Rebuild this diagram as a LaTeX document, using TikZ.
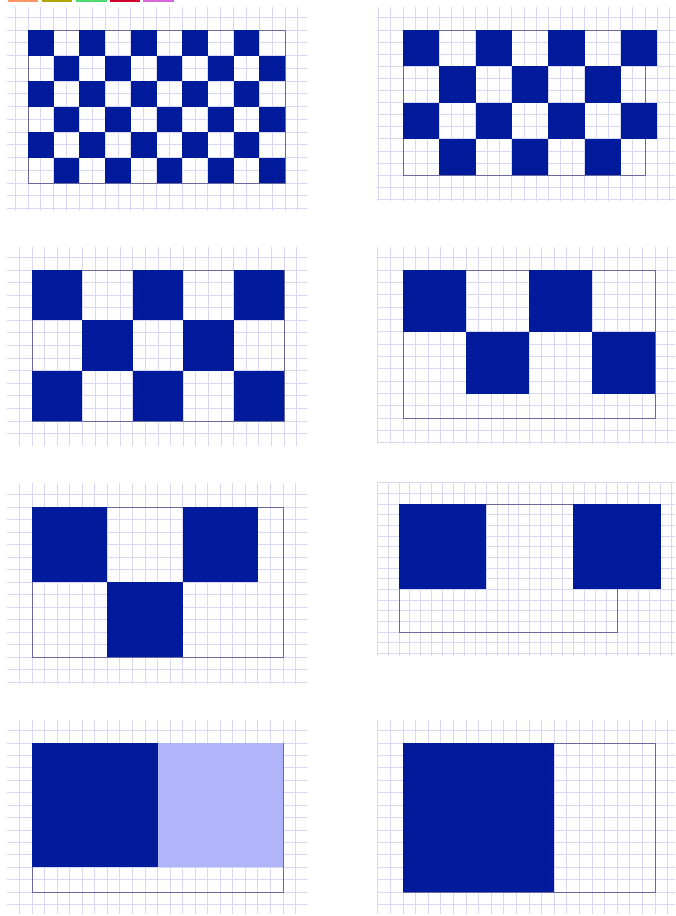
\documentclass[tikz,border=0pt]{standalone}
\definecolor{sqblue}{RGB}{0,26,156}
\definecolor{sqlite}{RGB}{176,180,248}
\definecolor{gridc}{RGB}{216,216,246}
\definecolor{framec}{RGB}{105,105,155}

% checkerboard of squares of side #1, last column #2, last row #3
\newcommand{\checker}[3]{%
  \foreach \ci in {0,...,#2}{%
    \foreach \ri in {0,...,#3}{%
      \pgfmathtruncatemacro\odd{mod(\ci+\ri,2)}%
      \ifnum\odd=0 \fill[sq] (\ci*#1,\ri*#1) rectangle ++(#1,#1);\fi
    }}}

% one sheet of squared paper with the 20x12 frame
\newcommand{\sheet}[5]{%
  \begin{scope}
    \clip (#1) rectangle (#2);
    \begin{scope}[shift={(#3)},#4]
      \foreach \i in {-3,...,27} \draw[gline] (\i,-3) -- (\i,18);
      \foreach \j in {-3,...,18} \draw[gline] (-3,\j) -- (27,\j);
      \draw[frame] (0,0) rectangle (20,12);
      #5
    \end{scope}
  \end{scope}}

\begin{document}
\begin{tikzpicture}[x=1pt,y=-1pt]
\tikzstyle{gline}=[draw=gridc,line width=0.9pt]
\tikzstyle{frame}=[draw=framec,line width=0.8pt]
\tikzstyle{sq}=[fill=sqblue]
\useasboundingbox (0,0) rectangle (676,916);
\fill[white] (0,0) rectangle (676,916);

\fill[orange!60!red!60] (8,0) rectangle (38,1.5);
\fill[olive!70!yellow] (42,0) rectangle (72,1.5);
\fill[green!60!teal!70] (76,0) rectangle (107,1.5);
\fill[purple!70!red] (110,0) rectangle (140,1.5);
\fill[violet!50!magenta!60] (143,0) rectangle (174,1.5);

\sheet{7,7}{307,210}{28,30}{xscale=12.85,yscale=12.75}{\checker{2}{9}{5}}
\sheet{377,7}{675,200}{403,30}{xscale=12.1,yscale=12.1}{\checker{3}{6}{3}}

\sheet{7,247}{307,445}{32,270}{xscale=12.6,yscale=12.58}{\checker{4}{4}{2}}
\sheet{377,247}{675,443}{403,270}{xscale=12.6,yscale=12.35}{\checker{5}{3}{1}}

\sheet{7,483}{307,683}{32,507}{xscale=12.55,yscale=12.5}{\checker{6}{2}{1}}
\sheet{377,482}{675,655}{399,504}{xscale=10.9,yscale=10.67}{\checker{8}{2}{0}}

\sheet{7,720}{307,913}{32,743}{xscale=12.55,yscale=12.42}{\fill[sqlite] (10,0) rectangle (20,10); \checker{10}{0}{0}}
\sheet{377,720}{675,913}{403,743}{xscale=12.6,yscale=12.42}{\checker{12}{0}{0}}
\end{tikzpicture}
\end{document}
